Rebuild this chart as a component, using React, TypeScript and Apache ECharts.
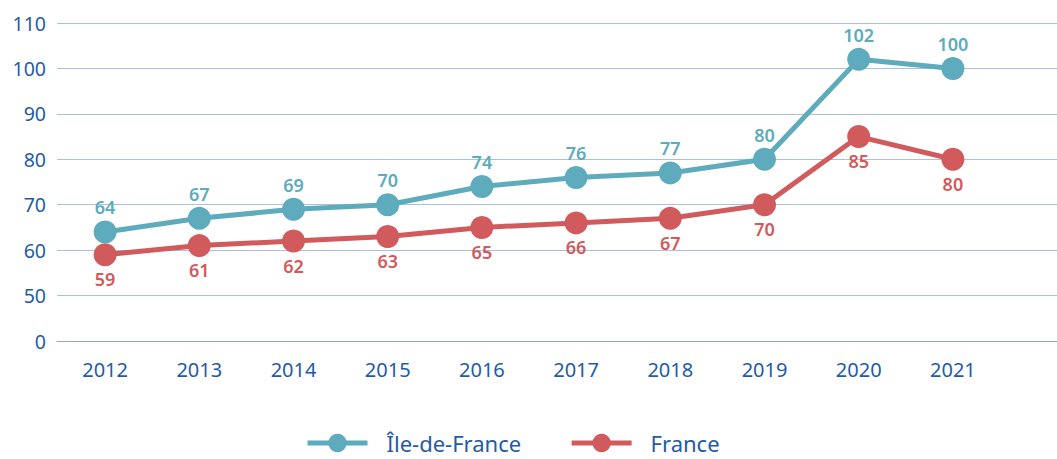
import React, { useEffect, useRef } from "react";
import * as echarts from "echarts";

const years = ["2012", "2013", "2014", "2015", "2016", "2017", "2018", "2019", "2020", "2021"];
const ileDeFrance = [64, 67, 69, 70, 74, 76, 77, 80, 102, 100];
const france = [59, 61, 62, 63, 65, 66, 67, 70, 85, 80];
const yTicks = [40, 50, 60, 70, 80, 90, 100, 110];
const yTickLabels: Record<number, string> = { 40: "0", 50: "50", 60: "60", 70: "70", 80: "80", 90: "90", 100: "100", 110: "110" };

const TEAL = "#5dabbd";
const RED = "#d15a5c";
const BLUE = "#1f5ba8";
const FONT = "'Noto Sans', sans-serif";

export default function App() {
  const ref = useRef<HTMLDivElement>(null);
  useEffect(() => {
    document.body.style.margin = "0";
    const chart = echarts.init(ref.current!, null, { renderer: "svg" });
    const yMin = yTicks[0];
    const yMax = yTicks[yTicks.length - 1];
    chart.setOption({
      animation: false,
      textStyle: { fontFamily: FONT },
      grid: [
        { left: 58, right: 57, top: 23, bottom: 118 },
        { left: 57, right: 0, top: 23, bottom: 118 },
      ],
      legend: {
        left: 305,
        top: 431,
        padding: 0,
        itemWidth: 60,
        itemHeight: 23,
        itemGap: 48,
        lineStyle: { width: 5 },
        textStyle: { color: BLUE, fontSize: 22, lineHeight: 24, fontFamily: FONT, padding: [0, 0, 0, 14] },
        data: ["Île-de-France", "France"],
      },
      xAxis: [
        {
          type: "category",
          gridIndex: 0,
          data: years,
          boundaryGap: true,
          axisLine: { show: false },
          axisTick: { show: false },
          axisLabel: { color: BLUE, fontSize: 20, margin: 18, fontFamily: FONT },
        },
        {
          type: "category",
          gridIndex: 1,
          data: years,
          axisLine: { show: true, lineStyle: { color: "#8ea9d3", width: 1 } },
          axisTick: { show: false },
          axisLabel: { show: false },
        },
      ],
      yAxis: [
        {
          type: "value",
          gridIndex: 0,
          min: yMin,
          max: yMax,
          interval: 10,
          axisLine: { show: false },
          axisTick: { show: false },
          axisLabel: { show: false },
          splitLine: { show: false },
        },
        {
          type: "value",
          gridIndex: 1,
          min: yMin,
          max: yMax,
          interval: 10,
          axisLine: { show: false },
          axisTick: { show: false },
          axisLabel: {
            color: BLUE,
            fontSize: 19.5,
            margin: 11,
            fontFamily: FONT,
            formatter: (v: number) => yTickLabels[v] ?? "",
          },
          splitLine: { show: true, lineStyle: { color: "#a9c0e0", width: 1 } },
        },
      ],
      series: [
        {
          name: "Île-de-France",
          type: "line",
          xAxisIndex: 0,
          yAxisIndex: 0,
          data: ileDeFrance,
          symbol: "circle",
          symbolSize: 23,
          color: TEAL,
          lineStyle: { width: 5, color: TEAL },
          itemStyle: { color: TEAL },
          label: {
            show: true,
            position: "top",
            distance: 4,
            color: TEAL,
            fontSize: 18,
            fontWeight: 600,
            fontFamily: FONT,
          },
          z: 3,
        },
        {
          name: "France",
          type: "line",
          xAxisIndex: 0,
          yAxisIndex: 0,
          data: france,
          symbol: "circle",
          symbolSize: 23,
          color: RED,
          lineStyle: { width: 5, color: RED },
          itemStyle: { color: RED },
          label: {
            show: true,
            position: "bottom",
            distance: 4,
            color: RED,
            fontSize: 18,
            fontWeight: 600,
            fontFamily: FONT,
          },
          z: 2,
        },
      ],
    });
    return () => chart.dispose();
  }, []);
  return <div ref={ref} style={{ width: 1057, height: 459 }} />;
}
